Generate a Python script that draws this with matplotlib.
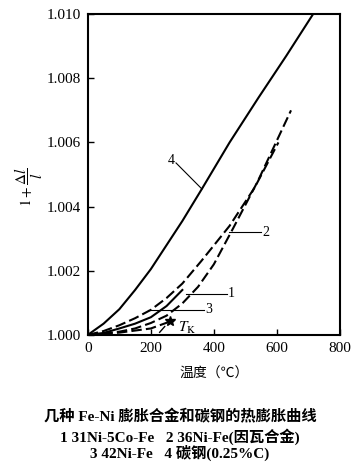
import matplotlib
matplotlib.use('Agg')
import matplotlib.pyplot as plt

plt.rcParams['font.family'] = ['Liberation Serif', 'Noto Sans CJK SC', 'DejaVu Sans']
plt.rcParams['mathtext.fontset'] = 'stix'

# curve data (temperature in C, 1 + dl/l)
t4 = [0, 50, 100, 150, 200, 250, 300, 362, 450, 542, 630, 715]
v4 = [1.0, 1.00035, 1.0008, 1.0014, 1.00205, 1.0028, 1.00355, 1.00455, 1.006, 1.0074, 1.0087, 1.010]

tA = [0, 50, 100, 150, 200, 250, 300, 360, 450, 530, 605]
vA = [1.0, 1.00012, 1.0003, 1.00052, 1.00078, 1.00115, 1.0016, 1.0023, 1.0034, 1.0046, 1.0060]

tB = [0, 100, 150, 200, 250, 300, 350, 400, 460, 540, 645]
vB = [1.0, 1.0001, 1.0002, 1.00037, 1.0006, 1.00098, 1.0015, 1.0022, 1.0033, 1.0048, 1.0070]

t1 = [0, 50, 100, 150, 200, 250, 300]
v1 = [1.0, 1.00006, 1.0002, 1.00035, 1.00055, 1.0009, 1.0014]

tE = [0, 100, 200, 262]
vE = [1.0, 1.00007, 1.0002, 1.00042]

tk_t, tk_v = 262, 1.00044

xticks = [0, 200, 400, 600, 800]
yticks = [1.000, 1.002, 1.004, 1.006, 1.008, 1.010]

caption = ['几种 Fe-Ni 膨胀合金和碳钢的热膨胀曲线',
           '1 31Ni-5Co-Fe   2 36Ni-Fe(因瓦合金)',
           '3 42Ni-Fe   4 碳钢(0.25%C)']

fig = plt.figure(figsize=(3.6, 4.71), dpi=100)
ax = fig.add_axes([0.244, 0.289, 0.7, 0.681])

ax.plot(t4, v4, color='black', lw=1.5)
ax.plot(t1, v1, color='black', lw=1.5)
ax.plot(tA, vA, color='black', lw=1.5, dashes=(5, 2))
ax.plot(tB, vB, color='black', lw=1.5, dashes=(5, 2))
ax.plot(tE, vE, color='black', lw=1.5, dashes=(5, 2))
ax.plot([tk_t], [tk_v], marker='*', color='black', ms=7)
ax.plot([228, 244], [1.00008, 1.00026], color='black', lw=1.0)
ax.text(285, 1.00022, r'$T_{\rm K}$', fontsize=11, va='center')

# leader lines and curve numbers
ax.plot([362, 280], [1.00455, 1.00536], color='black', lw=0.8)
ax.text(276, 1.00545, '4', fontsize=10, ha='right', va='center')
ax.plot([447, 551], [1.0032, 1.0032], color='black', lw=0.8)
ax.text(555, 1.0032, '2', fontsize=10, ha='left', va='center')
ax.plot([312, 441], [1.00128, 1.00128], color='black', lw=0.8)
ax.text(445, 1.00128, '1', fontsize=10, ha='left', va='center')
ax.plot([190, 368], [1.00078, 1.00078], color='black', lw=0.8)
ax.text(372, 1.00078, '3', fontsize=10, ha='left', va='center')

ax.set_xlim(0, 800)
ax.set_ylim(1.0, 1.010)
ax.set_xticks(xticks)
ax.set_xticklabels([str(x) for x in xticks])
ax.set_yticks(yticks)
ax.set_yticklabels(['%.3f' % y for y in yticks])
ax.tick_params(direction='in', length=4, width=1, labelsize=11, pad=5)
for s in ax.spines.values():
    s.set_linewidth(1.5)

ax.set_xlabel('温度（℃）', fontsize=10, labelpad=9)
ax.set_ylabel(r'$1+\dfrac{\Delta l}{l}$', fontsize=11)
ax.yaxis.set_label_coords(-0.17, 0.46)

ys = [0.115, 0.072, 0.038]
for txt, yy in zip(caption, ys):
    fig.text(0.5, yy, txt, ha='center', va='center', fontsize=11, fontweight='bold')

fig.savefig('out.png', dpi=100)
